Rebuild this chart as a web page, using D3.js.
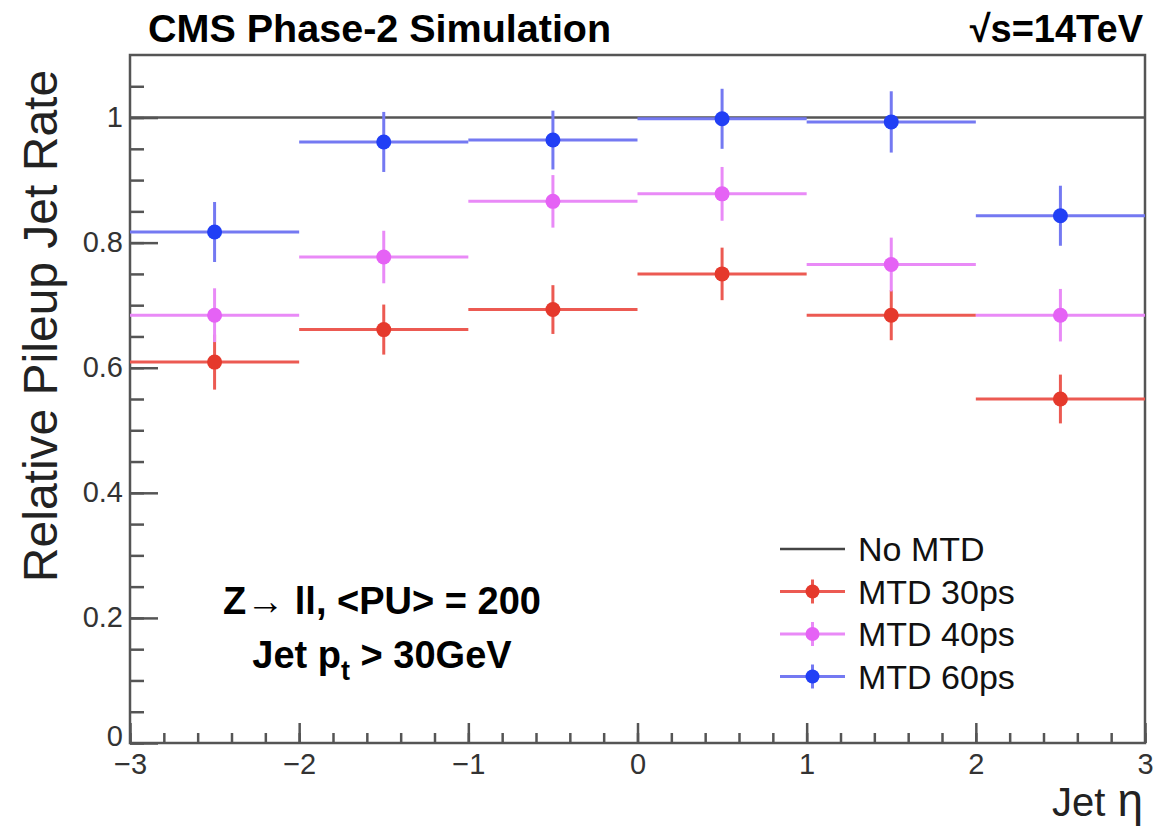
<!DOCTYPE html>
<html>
<head>
<meta charset="utf-8">
<script src="https://cdn.jsdelivr.net/npm/d3@7"></script>
<style>
  body { margin: 0; background: #fff; }
  svg { font-family: "Liberation Sans", Arial, Helvetica, sans-serif; }
</style>
</head>
<body>
<svg id="chart" width="1165" height="826"></svg>
<script>
// bins in jet eta
const binLo = [-3, -2, -1, 0, 1, 2];
const binHi = [-2, -1, 0, 1, 2, 3];

// relative pileup jet rate per bin, with errors
const rate30 = [0.609, 0.661, 0.693, 0.750, 0.684, 0.550];
const err30  = [0.044, 0.040, 0.039, 0.042, 0.040, 0.039];
const rate40 = [0.684, 0.777, 0.866, 0.878, 0.765, 0.684];
const err40  = [0.043, 0.042, 0.042, 0.043, 0.043, 0.042];
const rate60 = [0.817, 0.961, 0.964, 0.998, 0.993, 0.843];
const err60  = [0.048, 0.048, 0.047, 0.048, 0.049, 0.048];
const noMTD = 1.0;

const seriesNames = ["MTD 30ps", "MTD 40ps", "MTD 60ps"];

const yMajor = [0, 0.2, 0.4, 0.6, 0.8, 1];
const yMinor = d3.range(0, 21).map(i => i * 0.05).concat([1.05]);
const xMajor = [-3, -2, -1, 0, 1, 2, 3];
const xMinor = d3.range(0, 31).map(i => -3 + i * 0.2);

const margin = { top: 55, right: 20, bottom: 83, left: 130 };
const width = 1165 - margin.left - margin.right;
const height = 826 - margin.top - margin.bottom;
const fontFam = "'Liberation Sans', Arial, Helvetica, sans-serif";

const svg = d3.select("#chart");
const g = svg.append("g").attr("transform", `translate(${margin.left},${margin.top})`);

const x = d3.scaleLinear().domain([-3, 3]).range([0, width]);
const y = d3.scaleLinear().domain([0, 1.1]).range([height, 0]);

const axisColor = "#555";

// minor ticks
g.append("g")
    .call(d3.axisLeft(y).tickValues(yMinor).tickSize(-14).tickFormat(""))
    .call(a => a.select(".domain").remove())
    .selectAll("line").attr("stroke", axisColor).attr("stroke-width", 2.5);

g.append("g")
    .attr("transform", `translate(0,${height})`)
    .call(d3.axisBottom(x).tickValues(xMinor).tickSize(-10).tickFormat(""))
    .call(a => a.select(".domain").remove())
    .selectAll("line").attr("stroke", axisColor).attr("stroke-width", 2.5);

// major ticks + labels
const yAxis = g.append("g")
    .call(d3.axisLeft(y).tickValues(yMajor).tickSize(-28).tickPadding(7).tickFormat(d => String(d)))
    .attr("font-size", 29)
    .attr("font-family", fontFam);
yAxis.select(".domain").remove();
yAxis.selectAll("line").attr("stroke", axisColor).attr("stroke-width", 2.5);
yAxis.selectAll("text").attr("fill", "#333").attr("dy", d => d === 0 ? "0.1em" : "0.3em");

const xAxis = g.append("g")
    .attr("transform", `translate(0,${height})`)
    .call(d3.axisBottom(x).tickValues(xMajor).tickSize(-20).tickPadding(10)
        .tickFormat(d => d < 0 ? "\u2212" + Math.abs(d) : String(d)))
    .attr("font-size", 29)
    .attr("font-family", fontFam);
xAxis.select(".domain").remove();
xAxis.selectAll("line").attr("stroke", axisColor).attr("stroke-width", 2.5);
xAxis.selectAll("text").attr("fill", "#333");

// frame
g.append("rect")
    .attr("width", width).attr("height", height)
    .attr("fill", "none")
    .attr("stroke", axisColor)
    .attr("stroke-width", 2.5);

// No MTD reference line
g.append("line")
    .attr("x1", x(-3)).attr("x2", x(3))
    .attr("y1", y(noMTD)).attr("y2", y(noMTD))
    .attr("stroke", "#555")
    .attr("stroke-width", 2.5);

const series = [
    { name: seriesNames[0], vals: rate30, errs: err30, line: "#ec5a52", dot: "#e5392c" },
    { name: seriesNames[1], vals: rate40, errs: err40, line: "#e98af7", dot: "#e562f5" },
    { name: seriesNames[2], vals: rate60, errs: err60, line: "#7479f2", dot: "#213ff5" }
];

series.forEach(s => {
    const pts = s.vals.map((v, i) => ({ lo: binLo[i], hi: binHi[i], v: v, e: s.errs[i] }));
    const sg = g.append("g");
    sg.selectAll(".hbar").data(pts).join("line")
        .attr("x1", d => x(d.lo)).attr("x2", d => x(d.hi))
        .attr("y1", d => y(d.v)).attr("y2", d => y(d.v))
        .attr("stroke", s.line).attr("stroke-width", 3);
    sg.selectAll(".vbar").data(pts).join("line")
        .attr("x1", d => x((d.lo + d.hi) / 2)).attr("x2", d => x((d.lo + d.hi) / 2))
        .attr("y1", d => y(d.v - d.e)).attr("y2", d => y(d.v + d.e))
        .attr("stroke", s.line).attr("stroke-width", 3);
    sg.selectAll("circle").data(pts).join("circle")
        .attr("cx", d => x((d.lo + d.hi) / 2))
        .attr("cy", d => y(d.v))
        .attr("r", 7.5)
        .attr("fill", s.dot);
});

// legend
const leg = svg.append("g").attr("transform", "translate(780,549)");
const legRow = 42.5;
leg.append("line").attr("x1", 0).attr("x2", 65).attr("y1", 0).attr("y2", 0)
    .attr("stroke", "#444").attr("stroke-width", 2.5);
leg.append("text").attr("x", 78).attr("y", 12).style("font-size", "34px").attr("fill", "#111").text("No MTD");
series.forEach((s, i) => {
    const ly = (i + 1) * legRow;
    leg.append("line").attr("x1", 0).attr("x2", 65).attr("y1", ly).attr("y2", ly)
        .attr("stroke", s.line).attr("stroke-width", 3);
    leg.append("line").attr("x1", 32.5).attr("x2", 32.5).attr("y1", ly - 12).attr("y2", ly + 12)
        .attr("stroke", s.line).attr("stroke-width", 3);
    leg.append("circle").attr("cx", 32.5).attr("cy", ly).attr("r", 7).attr("fill", s.dot);
    leg.append("text").attr("x", 78).attr("y", ly + 12).style("font-size", "34px").attr("fill", "#111").text(s.name);
});

// header texts
svg.append("text")
    .attr("x", 148).attr("y", 42)
    .style("font-size", "39.5px").style("font-weight", "bold")
    .text("CMS Phase-2 Simulation");

svg.append("text")
    .attr("x", 1143).attr("y", 42)
    .attr("text-anchor", "end")
    .style("font-size", "38px").style("font-weight", "bold")
    .text("\u221As=14TeV");

// annotation
svg.append("text")
    .attr("x", 382).attr("y", 614)
    .attr("text-anchor", "middle")
    .style("font-size", "38px").style("font-weight", "bold")
    .text("Z\u2192 ll, <PU> = 200");

const t2 = svg.append("text")
    .attr("x", 382).attr("y", 668)
    .attr("text-anchor", "middle")
    .style("font-size", "38px").style("font-weight", "bold");
t2.append("tspan").text("Jet p");
t2.append("tspan").attr("dy", 12).style("font-size", "27px").text("t");
t2.append("tspan").attr("dy", -12).text(" > 30GeV");

// axis titles
svg.append("text")
    .attr("transform", "translate(57,326) rotate(-90)")
    .attr("text-anchor", "middle")
    .style("font-size", "48px")
    .attr("fill", "#222")
    .text("Relative Pileup Jet Rate");

const xt = svg.append("text")
    .attr("x", 1143).attr("y", 816)
    .attr("text-anchor", "end")
    .style("font-size", "40px")
    .attr("fill", "#222");
xt.append("tspan").text("Jet");
xt.append("tspan").attr("dx", 12).style("font-size", "46px").text("\u03b7");
</script>
</body>
</html>
